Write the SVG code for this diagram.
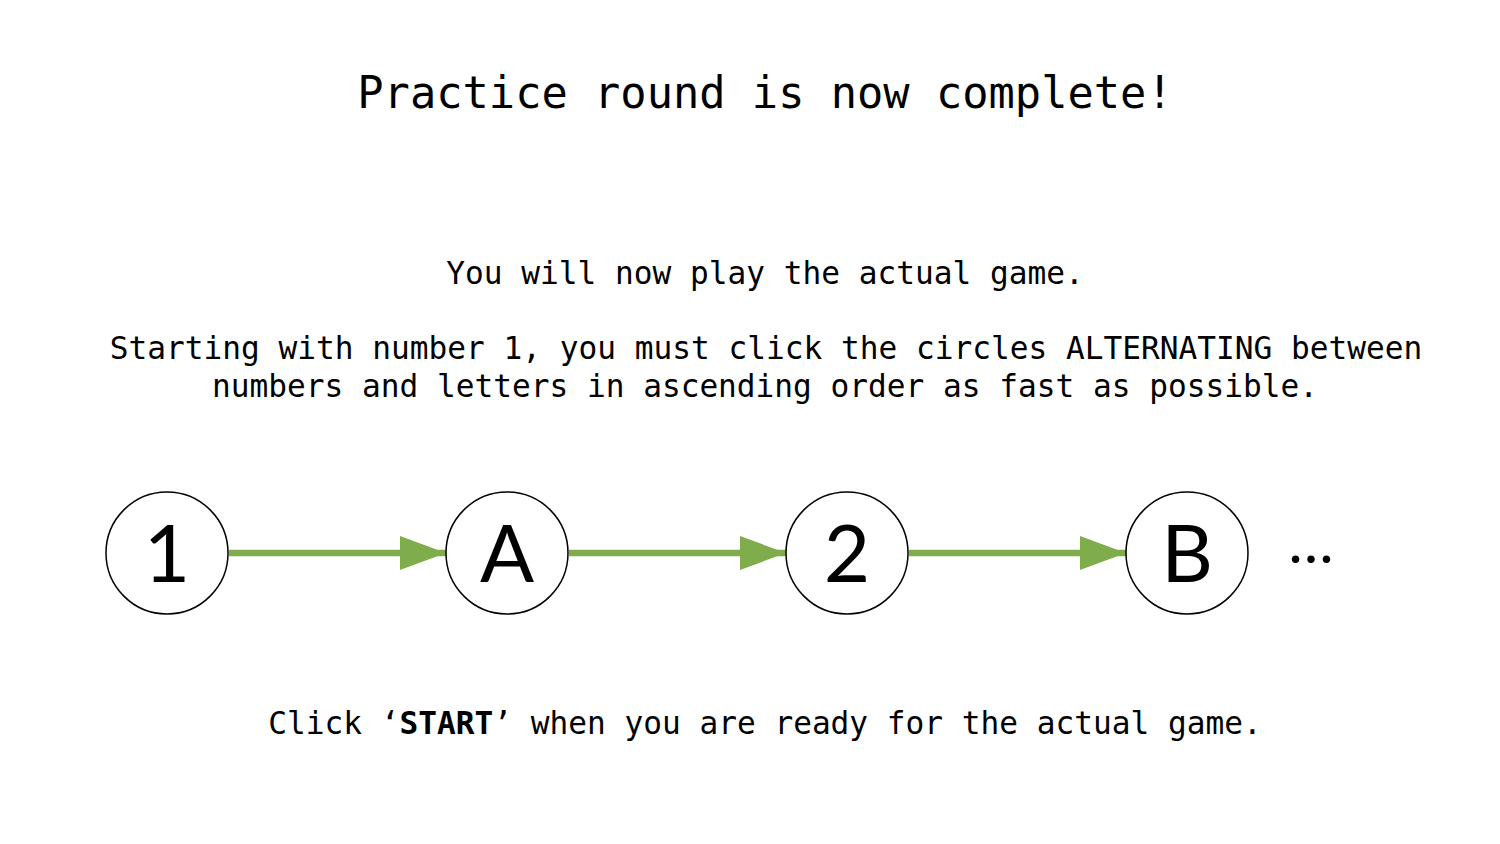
<svg xmlns="http://www.w3.org/2000/svg" width="1500" height="844" viewBox="0 0 1500 844">
<style>
.t{font-family:"DejaVu Sans Mono","Liberation Mono",monospace;fill:#000;text-anchor:middle}
.b{font-size:31.15px}
.n circle{fill:#fff;stroke:#000;stroke-width:1.5}
.n text{font-family:Lato,"Noto Sans",sans-serif;font-size:80px;text-anchor:middle;fill:#000}
.c line{stroke:#7FAD4C;stroke-width:6.5}
</style>
<defs>
<marker id="ah" markerUnits="userSpaceOnUse" markerWidth="46" markerHeight="34" refX="46" refY="17" orient="auto">
<path d="M0,0 L46,17 L0,34 Z" fill="#7FAD4C"/>
</marker>
</defs>
<rect width="1500" height="844" fill="#fff"/>
<text class="t" x="765" y="108" font-size="43.7">Practice round is now complete!</text>
<text class="t b" x="765" y="284">You will now play the actual game.</text>
<text class="t b" x="766" y="359">Starting with number 1, you must click the circles ALTERNATING between</text>
<text class="t b" x="765" y="397">numbers and letters in ascending order as fast as possible.</text>
<text class="t b" x="765" y="734">Click ‘<tspan font-weight="bold">START</tspan>’ when you are ready for the actual game.</text>
<g class="c" id="connectors">
<line x1="229" y1="553" x2="446" y2="553" marker-end="url(#ah)"/>
<line x1="569" y1="553" x2="786" y2="553" marker-end="url(#ah)"/>
<line x1="909" y1="553" x2="1126" y2="553" marker-end="url(#ah)"/>
</g>
<g class="n" id="node1"><circle cx="167" cy="553" r="61"/><text x="167" y="582">1</text></g>
<g class="n" id="nodeA"><circle cx="507" cy="553" r="61"/><text x="507" y="582">A</text></g>
<g class="n" id="node2"><circle cx="847" cy="553" r="61"/><text x="847" y="582">2</text></g>
<g class="n" id="nodeB"><circle cx="1187" cy="553" r="61"/><text x="1187" y="582">B</text></g>
<text id="ellipsis" x="1312" y="563" font-family="Lato,'Noto Sans',sans-serif" font-size="60" text-anchor="middle" letter-spacing="2">…</text>
</svg>
